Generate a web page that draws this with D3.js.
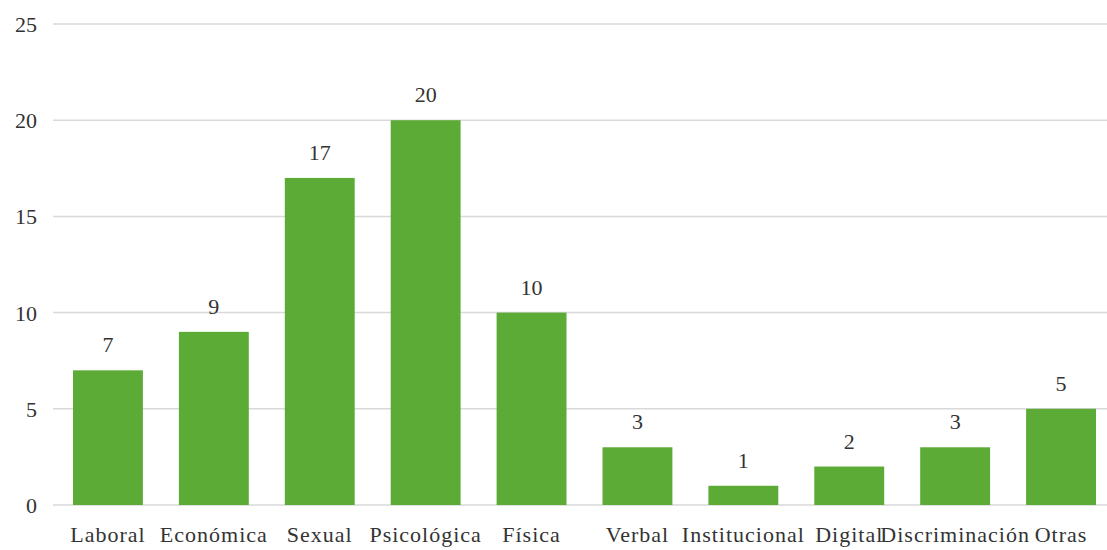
<!DOCTYPE html>
<html><head><meta charset="utf-8">
<script src="https://cdn.jsdelivr.net/npm/d3@7"></script>
<style>body{margin:0;background:#fff}svg{display:block}</style>
</head><body>
<svg id="c" width="1107" height="550" font-family="Liberation Serif, DejaVu Serif, serif"></svg>
<script>
const FONT = "Liberation Serif";
const categories = ["Laboral","Económica","Sexual","Psicológica","Física","Verbal","Institucional","Digital","Discriminación","Otras"];
const values = [7,9,17,20,10,3,1,2,3,5];
const yTicks = [0,5,10,15,20,25];

const svg = d3.select("#c");
const x = d3.scaleBand().domain(categories).range([55,1114]).paddingInner(0.34).paddingOuter(0.17);
const y = d3.scaleLinear().domain([0,25]).range([505,24]);

const grid = svg.append("g");
grid.selectAll("line").data(yTicks).join("line")
  .attr("x1",53).attr("x2",1107)
  .attr("y1",d=>y(d)).attr("y2",d=>y(d))
  .attr("stroke","#d9d9d9").attr("stroke-width",1.5);

const yAxis = svg.append("g").attr("transform","translate(37,0)")
  .call(d3.axisLeft(y).tickValues(yTicks).tickSize(0).tickPadding(0));
yAxis.attr("font-family",FONT).attr("font-size",22);
yAxis.select(".domain").remove();
yAxis.selectAll("text").attr("font-family",FONT).attr("font-size",22).attr("fill","#333").attr("dy","0.34em");

svg.append("g").selectAll("text").data(values).join("text")
  .attr("x",(d,i)=>x(categories[i])+x.bandwidth()/2)
  .attr("y",d=>y(d)-18)
  .attr("text-anchor","middle").attr("font-family",FONT).attr("font-size",22).attr("fill","#333")
  .text(d=>d);

svg.append("g").selectAll("rect").data(values).join("rect")
  .attr("x",(d,i)=>x(categories[i])).attr("width",x.bandwidth())
  .attr("y",d=>y(d)).attr("height",d=>y(0)-y(d))
  .attr("fill","#5bab36");

const xAxis = svg.append("g").attr("transform","translate(0,505)")
  .call(d3.axisBottom(x).tickSize(0).tickPadding(0));
xAxis.attr("font-family",FONT).attr("font-size",22);
xAxis.select(".domain").remove();
xAxis.selectAll("text").attr("font-family",FONT).attr("font-size",22).attr("letter-spacing",1).attr("fill","#333").attr("y",37).attr("dy",0);
</script>
</body></html>
